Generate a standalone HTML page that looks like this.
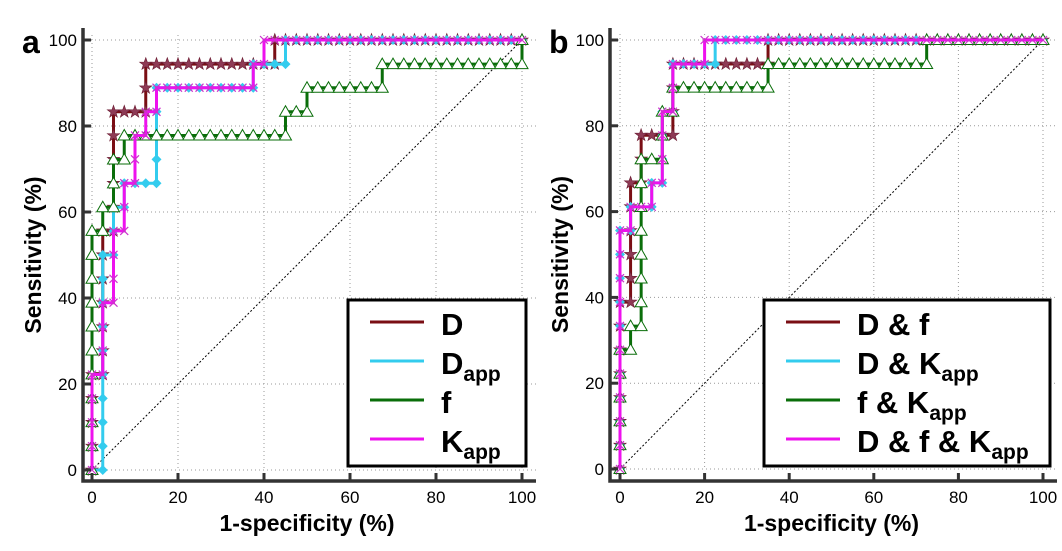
<!DOCTYPE html>
<html><head><meta charset="utf-8"><style>
html,body{margin:0;padding:0;background:#fff;}
svg{display:block;font-family:"Liberation Sans",Arial,sans-serif;}
</style></head><body>
<svg id="chart" width="1062" height="551" viewBox="0 0 1062 551"></svg>
<script>
const ticks=[0,20,40,60,80,100];
// Panel a series (x = 1-specificity %, y = sensitivity %)
const aD_x=[0,0,2.5,2.5,5,5,12.5,12.5,42.5,42.5,100];
const aD_y=[0,22.2,22.2,55.6,55.6,83.3,83.3,94.4,94.4,100,100];
const aDapp_x=[0,2.5,2.5,5,5,7.5,7.5,15,15,37.5,37.5,45,45,100];
const aDapp_y=[0,0,50,50,61.1,61.1,66.7,66.7,88.9,88.9,94.4,94.4,100,100];
const aF_x=[0,0,2.5,2.5,5,5,7.5,7.5,45,45,50,50,67.5,67.5,100,100];
const aF_y=[0,55.6,55.6,61.1,61.1,72.2,72.2,77.8,77.8,83.3,83.3,88.9,88.9,94.4,94.4,100];
const aK_x=[0,0,2.5,2.5,5,5,7.5,7.5,10,10,12.5,12.5,15,15,37.5,37.5,40,40,100];
const aK_y=[0,22.2,22.2,38.9,38.9,55.6,55.6,66.7,66.7,77.8,77.8,83.3,83.3,88.9,88.9,94.4,94.4,100,100];
// Panel b series
const bDf_x=[0,0,2.5,2.5,5,5,12.5,12.5,35,35,100];
const bDf_y=[0,38.9,38.9,66.7,66.7,77.8,77.8,94.4,94.4,100,100];
const bDK_x=[0,0,2.5,2.5,7.5,7.5,10,10,12.5,12.5,22.5,22.5,100];
const bDK_y=[0,55.6,55.6,61.1,61.1,66.7,66.7,83.3,83.3,94.4,94.4,100,100];
const bFK_x=[0,0,2.5,2.5,5,5,10,10,12.5,12.5,35,35,72.5,72.5,100];
const bFK_y=[0,27.8,27.8,33.3,33.3,72.2,72.2,83.3,83.3,88.9,88.9,94.4,94.4,100,100];
const bDFK_x=[0,0,2.5,2.5,7.5,7.5,10,10,12.5,12.5,20,20,100];
const bDFK_y=[0,55.6,55.6,61.1,61.1,66.7,66.7,83.3,83.3,94.4,94.4,100,100];

const NS="http://www.w3.org/2000/svg";
const svg=document.getElementById('chart');
function mk(tag,attrs,parent){const e=document.createElementNS(NS,tag);for(const k in attrs)e.setAttribute(k,attrs[k]);(parent||svg).appendChild(e);return e;}
const C={dr:'#7a0e14',cy:'#33ccee',gr:'#0a6e0a',mg:'#ee11ee'};

function panel(p){
  const g=mk('g',{});
  
  
  const sx=v=>p.x0+(p.x100-p.x0)*v/100, sy=v=>p.y0+(p.y100-p.y0)*v/100;
  // grid
  ticks.forEach(t=>{
    const gl=mk('line',{x1:sx(t),x2:sx(t),y1:sy(0)-2,y2:sy(100)-6,stroke:'#999','stroke-width':1,'stroke-dasharray':'1,3'},g);
    
    const gh=mk('line',{x1:p.ax,x2:sx(100)+14,y1:sy(t),y2:sy(t),stroke:'#999','stroke-width':1,'stroke-dasharray':'1,3'},g);
    
  });
  const diag=mk('line',{x1:sx(0),y1:sy(0),x2:sx(100),y2:sy(100),stroke:'#000','stroke-width':1,'stroke-dasharray':'2,2'},g);
  
  // series
  p.series.forEach(s=>{
    const sg=mk('g',{},g);
    
    const pts=s.x.map((v,i)=>sx(v)+','+sy(s.y[i])).join(' ');
    mk('polyline',{points:pts,fill:'none',stroke:s.c,'stroke-width':3},sg);
    // markers along steps
    const marks=[];
    for(let i=0;i<s.x.length;i++){
      if(i>0){const dx=s.x[i]-s.x[i-1],dy=s.y[i]-s.y[i-1];
        const n=Math.round(Math.abs(dx)/2.5+Math.abs(dy)/5.556);
        for(let k=1;k<n;k++)marks.push([s.x[i-1]+dx*k/n,s.y[i-1]+dy*k/n]);}
      marks.push([s.x[i],s.y[i]]);
    }
    marks.forEach(m=>{const X=sx(m[0]),Y=sy(m[1]);
      if(s.m==='star'){let d='';for(let k=0;k<10;k++){const r=k%2?2.6:6.5,a=-Math.PI/2+k*Math.PI/5;d+=(k?'L':'M')+(X+r*Math.cos(a)).toFixed(1)+','+(Y+r*Math.sin(a)).toFixed(1);}mk('path',{d:d+'Z',fill:'#8e3a55',stroke:'#6a1a30','stroke-width':0.6},sg);}
      else if(s.m==='dia'){mk('path',{d:`M${X},${Y-5}L${X+5},${Y}L${X},${Y+5}L${X-5},${Y}Z`,fill:'#33ccee'},sg);}
      else if(s.m==='tri'){mk('path',{d:`M${X},${Y-6}L${X+6},${Y+4.5}L${X-6},${Y+4.5}Z`,fill:'#fff',stroke:'#0a6e0a','stroke-width':1},sg);}
      else {mk('path',{d:`M${X-4},${Y-4}L${X+4},${Y+4}M${X-4},${Y+4}L${X+4},${Y-4}`,stroke:'#cc33cc','stroke-width':1.2},sg);}
    });
  });
  // axes
  const ax=mk('path',{d:`M${p.ax},${sy(100)-12}V${p.ab}H${sx(100)+14}`,fill:'none',stroke:'#333','stroke-width':3.5},g);
  
  ticks.forEach(t=>{
    mk('line',{x1:p.ax,x2:p.ax+8,y1:sy(t),y2:sy(t),stroke:'#333','stroke-width':3},g);
    mk('line',{x1:sx(t),x2:sx(t),y1:p.ab,y2:p.ab-8,stroke:'#333','stroke-width':3},g);
    const tx=mk('text',{x:sx(t),y:p.ab+22,'font-size':17,'text-anchor':'middle',fill:'#000'},g);tx.textContent=t;
    
    const ty=mk('text',{x:p.ax-6,y:sy(t)+6,'font-size':17,'text-anchor':'end',fill:'#000'},g);ty.textContent=t;
    
  });
  const xt=mk('text',{x:(sx(0)+sx(100))/2,y:531,'font-size':23,'font-weight':'bold','text-anchor':'middle'},g);xt.textContent='1-specificity (%)';
  
  const yt=mk('text',{x:0,y:0,'font-size':23,'font-weight':'bold','text-anchor':'middle',transform:`translate(${p.ax-42},${(sy(0)+sy(100))/2}) rotate(-90)`},g);yt.textContent='Sensitivity (%)';
  
  const pl=mk('text',{x:p.lx,y:53,'font-size':32,'font-weight':'bold'},g);pl.textContent=p.label;
  
  // legend
  const lg=mk('g',{},g);
  mk('rect',{x:p.lg[0],y:300,width:p.lg[1],height:166,fill:'#fff',stroke:'#000','stroke-width':3},lg);
  p.series.forEach((s,i)=>{const y=322+i*39;
    const le=mk('g',{},lg);
    mk('line',{x1:p.lg[0]+22,x2:p.lg[0]+76,y1:y,y2:y,stroke:s.c,'stroke-width':3},le);
    const t=mk('text',{x:p.lg[0]+93,y:y+13,'font-size':31,'font-weight':'bold'},le);
    s.leg.forEach(part=>{const ts=mk('tspan',part[1]?{'font-size':21,dy:7}:{'dy':0},t);ts.textContent=part[0];if(part[1]){}});
  });
}
panel({name:'panel-a',label:'a',lx:22,x0:92,x100:522,y0:470,y100:40,ax:83,ab:481,lg:[348,178],series:[
 {name:'series-d',x:aD_x,y:aD_y,c:C.dr,m:'star',leg:[['D']]},
 {name:'series-dapp',x:aDapp_x,y:aDapp_y,c:C.cy,m:'dia',leg:[['D'],['app',1]]},
 {name:'series-f',x:aF_x,y:aF_y,c:C.gr,m:'tri',leg:[['f']]},
 {name:'series-kapp',x:aK_x,y:aK_y,c:C.mg,m:'x',leg:[['K'],['app',1]]}]});
panel({name:'panel-b',label:'b',lx:549,x0:620,x100:1043,y0:469,y100:40,ax:610,ab:481,lg:[764,286],series:[
 {name:'series-d-f',x:bDf_x,y:bDf_y,c:C.dr,m:'star',leg:[['D & f']]},
 {name:'series-d-kapp',x:bDK_x,y:bDK_y,c:C.cy,m:'dia',leg:[['D & K'],['app',1]]},
 {name:'series-f-kapp',x:bFK_x,y:bFK_y,c:C.gr,m:'tri',leg:[['f & K'],['app',1]]},
 {name:'series-d-f-kapp',x:bDFK_x,y:bDFK_y,c:C.mg,m:'x',leg:[['D & f & K'],['app',1]]}]});
</script>
</body></html>
